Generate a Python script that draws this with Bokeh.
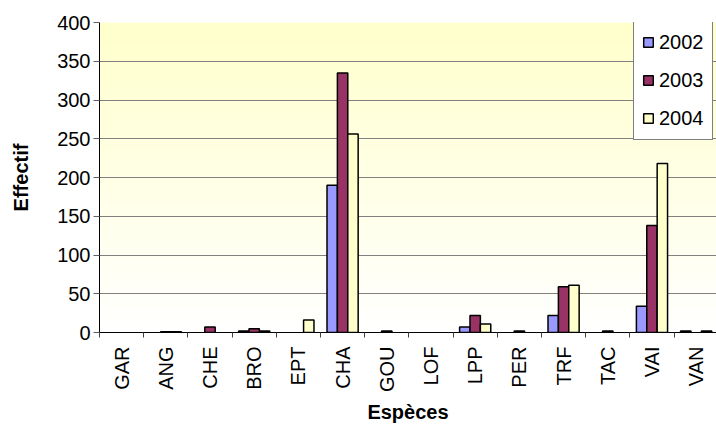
import math
import numpy as np
from bokeh.plotting import figure
from bokeh.models import Range1d, LinearAxis, FixedTicker, ColumnDataSource, Legend, LegendItem
from bokeh.embed import file_html
from bokeh.resources import INLINE

species = ["GAR", "ANG", "CHE", "BRO", "EPT", "CHA", "GOU", "LOF", "LPP", "PER", "TRF", "TAC", "VAI", "VAN"]
years = ["2002", "2003", "2004"]
v2002 = [0, 0, 0, 2, 0, 190, 0, 0, 7, 0, 22, 0, 34, 2]
v2003 = [0, 1, 7, 5, 0, 335, 2, 0, 22, 2, 59, 2, 138, 0]
v2004 = [0, 1, 0, 2, 16, 256, 0, 0, 11, 0, 61, 0, 218, 2]
y_ticks = [0, 50, 100, 150, 200, 250, 300, 350, 400]
colors = ["#9999FF", "#993366", "#FFFFCC"]

FONT = "Liberation Sans"
FS = "20px"
n = len(species)

p = figure(width=716, height=434, x_range=Range1d(0, 13.96), y_range=Range1d(0, 400),
           x_axis_type=None, output_backend="svg", toolbar_location=None,
           min_border_left=99, min_border_right=0, min_border_top=22, min_border_bottom=102)
p.outline_line_color = None
p.background_fill_color = "white"
p.border_fill_color = "white"

# gradient background of plot area
rows = 200
img = np.empty((rows, 2), dtype=np.uint32)
view = img.view(dtype=np.uint8).reshape((rows, 2, 4))
t = np.linspace(0, 1, rows)
view[:, :, 0] = 255
view[:, :, 1] = 255
view[:, :, 2] = (255 - 51 * t)[:, None].astype(np.uint8)
view[:, :, 3] = 255
p.image_rgba(image=[img], x=0, y=0, dw=n, dh=400, level="image")

# y axis
ya = p.yaxis[0]
ya.ticker = FixedTicker(ticks=y_ticks)
ya.minor_tick_line_color = None
ya.major_tick_in = 0
ya.major_tick_out = 6
ya.major_label_standoff = 3
ya.major_label_text_font = FONT
ya.major_label_text_font_size = FS
ya.major_label_text_color = "black"
ya.axis_line_color = "black"
ya.major_tick_line_color = "#606060"
ya.axis_label = "Effectif"
ya.axis_label_text_font = FONT
ya.axis_label_text_font_size = FS
ya.axis_label_text_font_style = "bold"
ya.axis_label_text_color = "black"
ya.axis_label_standoff = 22
p.ygrid.ticker = FixedTicker(ticks=y_ticks)
p.ygrid.grid_line_color = "#808080"
p.ygrid.grid_line_width = 1

# x axis: labels at category centres, tick marks (minor) at boundaries
centres = [i + 0.5 for i in range(n)]
bounds = list(range(n + 1))
xa = LinearAxis(ticker=FixedTicker(ticks=centres, minor_ticks=bounds))
xa.major_label_overrides = {c: s for c, s in zip(centres, species)}
xa.major_label_orientation = math.pi / 2
xa.major_label_standoff = 9
xa.major_label_text_font = FONT
xa.major_label_text_font_size = FS
xa.major_label_text_color = "black"
xa.major_tick_line_color = None
xa.major_tick_in = 0
xa.major_tick_out = 0
xa.minor_tick_line_color = "#404040"
xa.minor_tick_in = 0
xa.minor_tick_out = 5
xa.axis_line_color = "black"
xa.axis_label = "Espèces"
xa.axis_label_text_font = FONT
xa.axis_label_text_font_size = FS
xa.axis_label_text_font_style = "bold"
xa.axis_label_text_color = "black"
xa.axis_label_standoff = 6
p.add_layout(xa, "below")

# bars
bw = 0.235
offsets = [-bw, 0.0, bw]
items = []
for vals, yr, col, off in zip([v2002, v2003, v2004], years, colors, offsets):
    xs = [i + 0.5 + off for i, v in enumerate(vals) if v > 0]
    tops = [v for v in vals if v > 0]
    src = ColumnDataSource(dict(x=xs, top=tops))
    r = p.vbar(x="x", top="top", bottom=0, width=bw, source=src,
               fill_color=col, line_color="black", line_width=1.5)
    items.append(LegendItem(label=yr, renderers=[r]))

legend = Legend(items=items, location=(534, 192))
legend.label_text_font = FONT
legend.label_text_font_size = FS
legend.label_text_color = "black"
legend.label_height = 26
legend.glyph_width = 12
legend.glyph_height = 12
legend.label_standoff = 5
legend.spacing = 12
legend.padding = 8
legend.margin = 0
legend.border_line_color = "black"
legend.border_line_width = 1
legend.background_fill_color = "white"
legend.background_fill_alpha = 1.0
p.add_layout(legend, "center")

open("out.html", "w").write(file_html(p, INLINE))
